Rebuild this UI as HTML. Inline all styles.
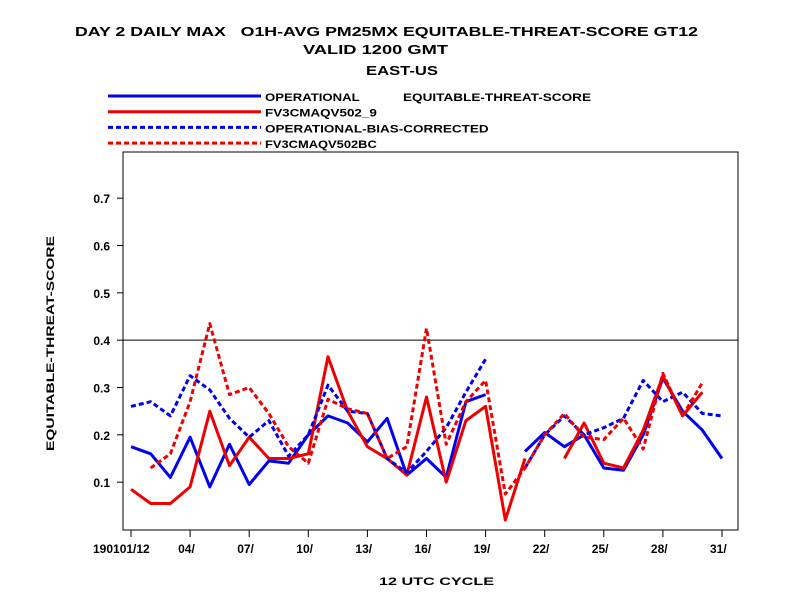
<!DOCTYPE html>
<html><head><meta charset="utf-8"><style>
body{margin:0;background:#fff}
svg{display:block;font-family:"Liberation Sans",sans-serif;font-weight:bold}
</style></head><body>
<svg id="chart" width="792" height="612" xmlns="http://www.w3.org/2000/svg">
<rect width="792" height="612" fill="#fff"/>
<text x="75" y="36" font-size="13" style="white-space:pre" xml:space="preserve" textLength="623" lengthAdjust="spacingAndGlyphs">DAY 2 DAILY MAX   O1H-AVG PM25MX EQUITABLE-THREAT-SCORE GT12</text>
<text x="303" y="54" font-size="13" textLength="145" lengthAdjust="spacingAndGlyphs">VALID 1200 GMT</text>
<text x="366" y="75" font-size="13" textLength="72" lengthAdjust="spacingAndGlyphs">EAST-US</text>
<g id="legend"></g>
<text x="403" y="101" font-size="11" textLength="188" lengthAdjust="spacingAndGlyphs">EQUITABLE-THREAT-SCORE</text>
<rect x="123" y="152" width="615" height="378" fill="none" stroke="#000" stroke-width="1"/>
<g id="axes"></g>
<g id="series"></g>
<text transform="translate(54,451) rotate(-90)" font-size="11" textLength="215" lengthAdjust="spacingAndGlyphs">EQUITABLE-THREAT-SCORE</text>
<text x="379" y="585" font-size="11" textLength="115" lengthAdjust="spacingAndGlyphs">12 UTC CYCLE</text>
</svg>
<script>
const days=[1,2,3,4,5,6,7,8,9,10,11,12,13,14,15,16,17,18,19,20,21,22,23,24,25,26,27,28,29,30,31];
const opSolid=[0.175,0.16,0.11,0.195,0.09,0.18,0.095,0.145,0.14,0.2,0.24,0.225,0.185,0.235,0.115,0.15,0.11,0.27,0.285,null,0.165,0.205,0.175,0.2,0.13,0.125,0.2,0.32,0.25,0.21,0.15];
const fv3Solid=[0.085,0.055,0.055,0.09,0.25,0.135,0.195,0.15,0.15,0.16,0.365,0.25,0.175,0.15,0.115,0.28,0.1,0.23,0.26,0.02,0.15,null,0.15,0.225,0.14,0.13,0.21,0.325,0.24,0.29,null];
const opBC=[0.26,0.27,0.24,0.325,0.295,0.235,0.195,0.23,0.155,0.2,0.305,0.25,0.245,0.15,0.12,0.165,0.215,0.29,0.36,null,0.13,0.2,0.24,0.2,0.215,0.235,0.315,0.27,0.29,0.245,0.24];
const fv3BC=[null,0.13,0.16,0.27,0.435,0.285,0.3,0.245,0.175,0.14,0.275,0.255,0.245,0.15,0.175,0.425,0.18,0.27,0.315,0.075,0.13,0.2,0.245,0.195,0.19,0.235,0.17,0.33,0.24,0.31,null];
const yTicks=[0.1,0.2,0.3,0.4,0.5,0.6,0.7];
const xTickDays=[1,4,7,10,13,16,19,22,25,28,31];
const xTickLabels=["190101/12","04/","07/","10/","13/","16/","19/","22/","25/","28/","31/"];
const seriesNames=["OPERATIONAL","FV3CMAQV502_9","OPERATIONAL-BIAS-CORRECTED","FV3CMAQV502BC"];
const NS="http://www.w3.org/2000/svg";
const xs=d=>131+(d-1)*19.7;
const ys=v=>529.5-v*473.3;
function mk(tag,parent){const e=document.createElementNS(NS,tag);document.getElementById(parent).appendChild(e);return e;}
yTicks.forEach(t=>{
  const l=mk('line','axes');
  
  
  l.setAttribute('x1',123);l.setAttribute('x2',117);l.setAttribute('y1',ys(t));l.setAttribute('y2',ys(t));l.setAttribute('stroke','#000');
  const tx=mk('text','axes');
  
  
  tx.setAttribute('x',110);tx.setAttribute('y',ys(t)+5);tx.setAttribute('font-size','12');tx.setAttribute('text-anchor','end');
  tx.textContent=t.toFixed(1);
});
const ref=mk('line','axes');


ref.setAttribute('x1',123);ref.setAttribute('x2',738);ref.setAttribute('y1',ys(0.4));ref.setAttribute('y2',ys(0.4));ref.setAttribute('stroke','#000');
xTickDays.forEach((d,i)=>{
  const l=mk('line','axes');
  
  
  l.setAttribute('x1',xs(d));l.setAttribute('x2',xs(d));l.setAttribute('y1',530);l.setAttribute('y2',537);l.setAttribute('stroke','#000');
  const tx=mk('text','axes');
  
  
  tx.setAttribute('y',553);tx.setAttribute('font-size','12');
  if(i===0){tx.setAttribute('x',93);}else{tx.setAttribute('x',xs(d)-12);}
  tx.textContent=xTickLabels[i];
});
const styles=[["#0000ee",false],["#ee0000",false],["#0000ee",true],["#ee0000",true]];
const data=[opSolid,fv3Solid,opBC,fv3BC];
const snames=["series-operational","series-fv3cmaqv502-9","series-operational-bias-corrected","series-fv3cmaqv502bc"];
data.forEach((arr,si)=>{
  let segs=[],cur=[];
  arr.forEach((v,i)=>{ if(v===null){if(cur.length)segs.push(cur);cur=[];} else cur.push(xs(days[i]).toFixed(1)+','+ys(v).toFixed(1)); });
  if(cur.length)segs.push(cur);
  segs.forEach(s=>{
    const p=mk('polyline','series');
    
    
    p.setAttribute('points',s.join(' '));p.setAttribute('fill','none');p.setAttribute('stroke',styles[si][0]);
    p.setAttribute('stroke-width','3');p.setAttribute('stroke-linejoin','round');
    if(styles[si][1])p.setAttribute('stroke-dasharray','5,3');
  });
});
seriesNames.forEach((n,i)=>{
  const y=96+i*15.7;
  const l=mk('line','legend');
  
  
  l.setAttribute('x1',108);l.setAttribute('x2',261);l.setAttribute('y1',y);l.setAttribute('y2',y);
  l.setAttribute('stroke',styles[i][0]);l.setAttribute('stroke-width','3');
  if(styles[i][1])l.setAttribute('stroke-dasharray','5,3');
  const t=mk('text','legend');
  
  
  t.setAttribute('x',265);t.setAttribute('y',y+5);t.setAttribute('font-size','11');
  t.setAttribute('textLength',n.length*8.6);t.setAttribute('lengthAdjust','spacingAndGlyphs');
  t.textContent=n;
});
</script>
</body></html>
